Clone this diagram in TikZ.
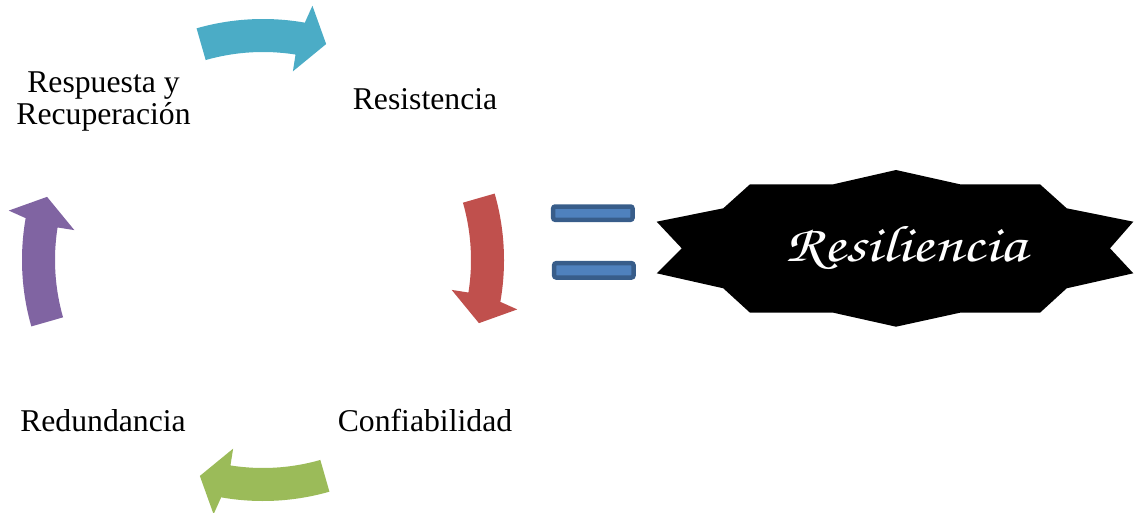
\documentclass[tikz,border=0pt]{standalone}
\usepackage{fontspec}
\setmainfont{Liberation Serif}
\newfontfamily\chorusfont{texgyrechorus-mediumitalic.otf}
\usetikzlibrary{calc}
\definecolor{cteal}{HTML}{4BACC6}
\definecolor{cred}{HTML}{C0504D}
\definecolor{cgreen}{HTML}{9BBB59}
\definecolor{cpurple}{HTML}{8064A2}
\definecolor{eqfill}{HTML}{4F81BD}
\definecolor{eqdraw}{HTML}{385D8A}
\newcommand\cycarrow[2]{%
  \fill[#2] ([shift={(#1-16:241)}]C) arc[start angle=#1-16, end angle=#1+10, radius=241]
    -- ([shift={(#1+11:259)}]C) -- ([shift={(#1+16.3:225)}]C)
    -- ([shift={(#1+9:191)}]C) -- ([shift={(#1+9:208)}]C)
    arc[start angle=#1+9, end angle=#1-16, radius=208] -- cycle;}
\begin{document}
\begin{tikzpicture}[x=1pt,y=-1pt,
  lbl/.style={anchor=base,inner sep=0pt,font=\fontsize{31.7}{32}\selectfont},
  eqbar/.style={draw=eqdraw,fill=eqfill,line width=4.5pt,rounded corners=2pt}]
\useasboundingbox (0,0) rectangle (1134,513);
\coordinate (C) at (263,260);
\cycarrow{-90}{cteal}
\cycarrow{0}{cred}
\cycarrow{90}{cgreen}
\cycarrow{180}{cpurple}
\node[lbl] (resp) at (103.5,93) {\begin{tabular}[t]{@{}c@{}}Respuesta y\\Recuperación\end{tabular}};
\node[lbl] (resis) at (425,110) {Resistencia};
\node[lbl] (conf) at (425,431) {Confiabilidad};
\node[lbl] (redun) at (103,431) {Redundancia};
\path[eqbar] (553.2,206.5) rectangle (632.5,219.8);
\path[eqbar] (554.2,263.2) rectangle (633.5,277.5);
\fill[black] (750,184.3) -- (833.3,184.3) -- (896,170) -- (960,184.3) -- (1040,184.3)
  -- (1066.7,208.3) -- (1133.3,221.7) -- (1110,248.3) -- (1133.3,273.3) -- (1066.7,288.3)
  -- (1040,312.7) -- (960,312.7) -- (896,326.7) -- (833.3,312.7) -- (750,312.7)
  -- (723.3,288.3) -- (656.7,273.3) -- (681.7,248.3) -- (656.7,221.7) -- (723.3,208.3) -- cycle;
\node[anchor=base,inner sep=0pt,text=white] (resil) at (906,261.7) {\resizebox{241pt}{35pt}{\chorusfont Resiliencia}};
\end{tikzpicture}
\end{document}
